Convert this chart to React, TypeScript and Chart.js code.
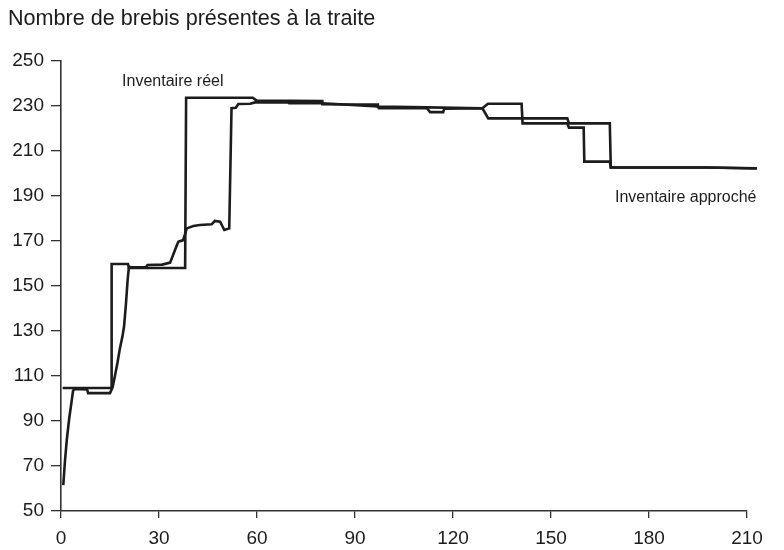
import React, { useEffect, useRef } from "react";
import { Chart, registerables } from "chart.js";

Chart.register(...registerables);

const titleText = "Nombre de brebis présentes à la traite";
const realLabel = "Inventaire réel";
const approxLabel = "Inventaire approché";

const xTicks = [0, 30, 60, 90, 120, 150, 180, 210];
const yTicks = [50, 70, 90, 110, 130, 150, 170, 190, 210, 230, 250];

// Inventaire réel (step line)
const realX = [0.5, 15.5, 15.5, 20.5, 20.8, 38, 38.3, 58.7, 59.9, 80, 80, 97, 97, 112, 129, 130.7, 141, 141.3, 155, 155.5, 160, 160.2, 168, 168.3, 197.6, 213];
const realY = [104.7, 104.7, 159.8, 159.8, 158, 158, 233.7, 233.7, 232.4, 232.2, 230.8, 230.6, 229.8, 229.4, 229, 231, 231, 222.3, 222.3, 220.4, 220.4, 205.3, 205.3, 202.7, 202.7, 202.2];

// Inventaire approché (smoothed estimate)
const approxX = [0.7, 1.2, 1.8, 2.5, 3.3, 3.7, 4.2, 8, 8.3, 15, 15.8, 16.5, 17.3, 18, 18.8, 19.3, 19.9, 20.4, 20.8, 21.5, 26, 26.5, 31, 33.4, 34.9, 35.9, 37.4, 38.5, 40.5, 42.5, 46.1, 47.1, 48.7, 50, 51.5, 52.2, 53.5, 54.3, 57.9, 59.4, 69.5, 69.8, 80, 97, 97.3, 112, 113, 117, 117.3, 129, 130.8, 155, 155.5, 168, 168.3, 197.6, 213];
const approxY = [61.5, 72, 82, 91, 99.3, 103.5, 104.2, 104, 102.4, 102.4, 105, 110, 116, 122, 127.5, 132, 142.4, 152.7, 158.6, 158.3, 158.3, 159.3, 159.5, 160.4, 166, 169.7, 170.4, 175.6, 176.7, 177.1, 177.4, 178.9, 178.6, 174.9, 175.6, 229, 229.2, 230.9, 231, 231.6, 231.6, 231.2, 231.2, 229.8, 229, 229, 227.3, 227.3, 228.8, 229, 224.5, 224.5, 222.3, 222.3, 202.7, 202.7, 202.3];

const FONT = "'Liberation Sans', Arial, Helvetica, sans-serif";
const INK = "#1c1c1c";

const textPlugin = {
  id: "textPlugin",
  afterDraw(chart: any) {
    const ctx = chart.ctx;
    const xs = chart.scales.x;
    const ys = chart.scales.y;
    ctx.save();
    ctx.fillStyle = INK;
    ctx.textBaseline = "middle";
    ctx.textAlign = "left";
    ctx.font = `21.6px ${FONT}`;
    ctx.fillText(titleText, 8, 19);
    ctx.font = `16px ${FONT}`;
    ctx.fillText(realLabel, xs.getPixelForValue(18.7), ys.getPixelForValue(240.7));
    ctx.fillText(approxLabel, xs.getPixelForValue(169.6), ys.getPixelForValue(189.1));
    ctx.restore();
  },
};

export default function App() {
  const ref = useRef<HTMLCanvasElement | null>(null);
  useEffect(() => {
    if (!ref.current) return;
    const mk = (xa: number[], ya: number[]) => xa.map((x, i) => ({ x, y: ya[i] }));
    const chart = new Chart(ref.current, {
      type: "scatter",
      data: {
        datasets: [
          {
            label: realLabel,
            data: mk(realX, realY),
            showLine: true,
            pointRadius: 0,
            borderColor: INK,
            borderWidth: 2.6,
            clip: false as any,
          },
          {
            label: approxLabel,
            data: mk(approxX, approxY),
            showLine: true,
            pointRadius: 0,
            borderColor: INK,
            borderWidth: 2.6,
            clip: false as any,
          },
        ],
      },
      options: {
        animation: false,
        responsive: false,
        devicePixelRatio: 1,
        layout: { padding: { left: 8, right: 37, top: 61, bottom: 0 } },
        plugins: {
          legend: { display: false },
          tooltip: { enabled: false },
          title: { display: false },
        },
        scales: {
          x: {
            type: "linear",
            min: 0,
            max: 210,
            afterBuildTicks: (s: any) => {
              s.ticks = xTicks.map((v) => ({ value: v }));
            },
            afterFit: (s: any) => {
              s.height = 39;
            },
            ticks: {
              font: { size: 19, family: FONT },
              color: INK,
              padding: 9,
              maxRotation: 0,
            },
            grid: {
              display: true,
              drawOnChartArea: false,
              drawTicks: true,
              tickLength: 7,
              color: "#333",
              lineWidth: 1.3,
            },
            border: { display: true, color: "#333", width: 1.6 },
          },
          y: {
            type: "linear",
            min: 50,
            max: 250,
            afterBuildTicks: (s: any) => {
              s.ticks = yTicks.map((v) => ({ value: v }));
            },
            afterFit: (s: any) => {
              s.width = 53;
            },
            ticks: {
              font: { size: 19, family: FONT },
              color: INK,
              padding: 7,
            },
            grid: {
              display: true,
              drawOnChartArea: false,
              drawTicks: true,
              tickLength: 10,
              color: "#333",
              lineWidth: 1.3,
            },
            border: { display: true, color: "#333", width: 1.6 },
          },
        },
      },
      plugins: [textPlugin],
    } as any);
    return () => chart.destroy();
  }, []);
  return (
    <div style={{ position: "absolute", left: 0, top: 0, width: 784, height: 550, background: "#fff" }}>
      <canvas ref={ref} width={784} height={550} style={{ width: 784, height: 550, display: "block" }} />
    </div>
  );
}
